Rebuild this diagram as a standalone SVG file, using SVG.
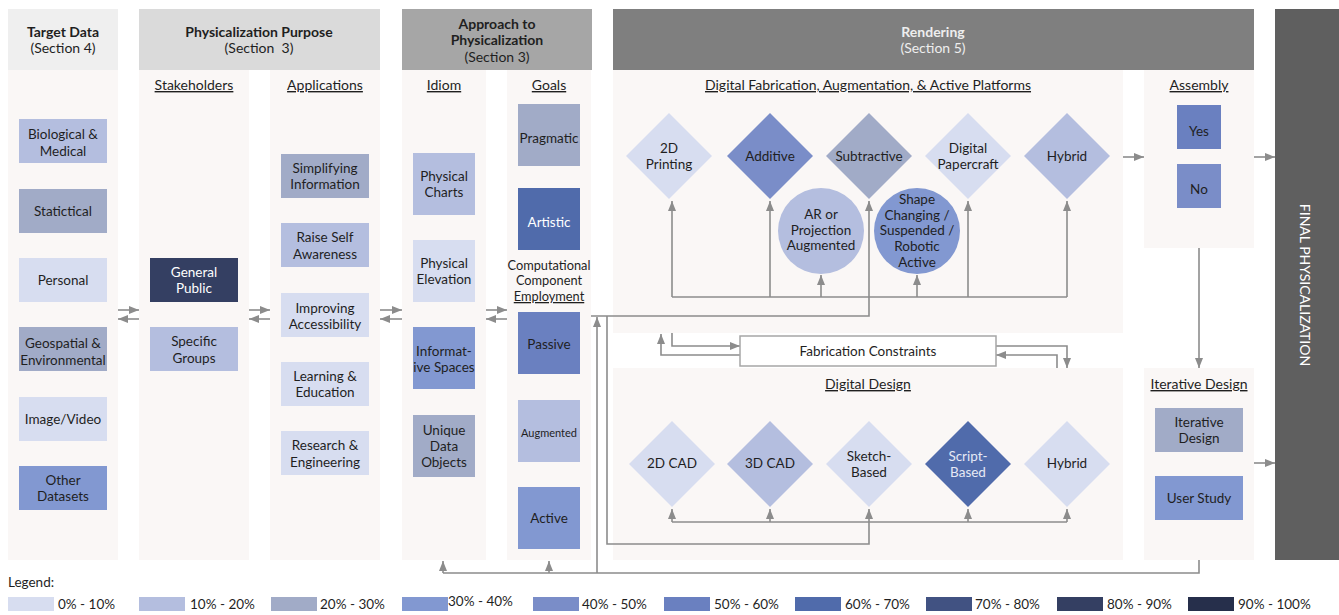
<svg xmlns="http://www.w3.org/2000/svg" width="1339" height="615" viewBox="0 0 1339 615">
<style>
text{font-family:Lato,"Open Sans","Liberation Sans",sans-serif;font-size:13.5px;fill:#1f1f1f;text-anchor:middle}
.b{font-weight:bold;font-size:14px}
.h{font-size:14px}
.u{text-decoration:underline;font-size:14px}
.w{fill:#ffffff}
.col{fill:#faf7f6}
.c{stroke:#8c8c8c;stroke-width:1.6;fill:none}
.lg{text-anchor:start}
.c0{fill:#d7ddf0}.c1{fill:#b4bedf}.c2{fill:#a1abc7}.c3{fill:#8298d1}.c4{fill:#7a8dc8}
.c5{fill:#6a80c0}.c6{fill:#506bab}.c7{fill:#415282}.c8{fill:#343f62}.c9{fill:#262f4b}
</style>
<defs>
<marker id="ah" markerWidth="10" markerHeight="8" refX="10" refY="4" orient="auto" markerUnits="userSpaceOnUse">
<path d="M0,0 L10,4 L0,8 z" fill="#8c8c8c"/>
</marker>
</defs>
<rect width="1339" height="615" fill="#ffffff"/>
<!-- panels -->
<g id="panels">
<rect x="8" y="9" width="110" height="61" fill="#efefef"/>
<rect x="8" y="70" width="110" height="490" class="col"/>
<rect x="139" y="9" width="241" height="61" fill="#dadada"/>
<rect x="139" y="70" width="110" height="490" class="col"/>
<rect x="270" y="70" width="110" height="490" class="col"/>
<rect x="402" y="9" width="190" height="61" fill="#a6a6a6"/>
<rect x="402" y="70" width="84" height="490" class="col"/>
<rect x="507" y="70" width="84" height="490" class="col"/>
<rect x="613" y="9" width="641" height="61" fill="#7f7f7f"/>
<rect x="613" y="70" width="510" height="263" class="col"/>
<rect x="613" y="368" width="510" height="192" class="col"/>
<rect x="1144" y="70" width="110" height="178" class="col"/>
<rect x="1144" y="368" width="110" height="192" class="col"/>
<rect x="1275" y="9" width="64" height="551" fill="#5f5f5f"/>
<text x="63" y="37" class="b">Target Data</text>
<text x="63" y="53" class="h">(Section 4)</text>
<text x="259" y="37" class="b">Physicalization Purpose</text>
<text x="259" y="53" class="h" xml:space="preserve">(Section  3)</text>
<text x="497" y="29" class="b">Approach to</text>
<text x="497" y="45" class="b">Physicalization</text>
<text x="497" y="62" class="h">(Section 3)</text>
<text x="933" y="37" class="b" style="fill:#eeeeee">Rendering</text>
<text x="933" y="53" class="h" style="fill:#eeeeee">(Section 5)</text>
<text transform="translate(1300,285) rotate(90)" class="w" style="font-size:14px">FINAL PHYSICALIZATION</text>
<text x="194" y="90" class="u">Stakeholders</text>
<text x="325" y="90" class="u">Applications</text>
<text x="444" y="90" class="u">Idiom</text>
<text x="549" y="90" class="u">Goals</text>
<text x="868" y="90" class="u">Digital Fabrication, Augmentation, &amp; Active Platforms</text>
<text x="1199" y="90" class="u">Assembly</text>
<text x="868" y="389" class="u">Digital Design</text>
<text x="1199" y="389" class="u">Iterative Design</text>
<text x="549" y="270" style="font-size:12.8px">Computational</text>
<text x="549" y="285" style="font-size:12.8px">Component</text>
<text x="549" y="301" style="font-size:12.8px;text-decoration:underline">Employment</text>
</g>
<!-- connectors -->
<g id="connectors">
<line x1="118" y1="310" x2="139" y2="310" class="c" marker-end="url(#ah)"/>
<line x1="139" y1="319" x2="118" y2="319" class="c" marker-end="url(#ah)"/>
<line x1="249" y1="310" x2="270" y2="310" class="c" marker-end="url(#ah)"/>
<line x1="270" y1="319" x2="249" y2="319" class="c" marker-end="url(#ah)"/>
<line x1="380" y1="310" x2="402" y2="310" class="c" marker-end="url(#ah)"/>
<line x1="402" y1="319" x2="380" y2="319" class="c" marker-end="url(#ah)"/>
<line x1="486" y1="310" x2="507" y2="310" class="c" marker-end="url(#ah)"/>
<line x1="507" y1="319" x2="486" y2="319" class="c" marker-end="url(#ah)"/>
<line x1="672" y1="297" x2="1067" y2="297" class="c"/>
<line x1="672" y1="297" x2="672" y2="201" class="c" marker-end="url(#ah)"/>
<line x1="770" y1="297" x2="770" y2="201" class="c" marker-end="url(#ah)"/>
<line x1="968" y1="297" x2="968" y2="201" class="c" marker-end="url(#ah)"/>
<line x1="1067" y1="297" x2="1067" y2="201" class="c" marker-end="url(#ah)"/>
<line x1="821" y1="297" x2="821" y2="275" class="c" marker-end="url(#ah)"/>
<line x1="917" y1="297" x2="917" y2="275" class="c" marker-end="url(#ah)"/>
<polyline points="591,316 869,316 869,201" class="c" marker-end="url(#ah)"/>
<line x1="1123" y1="157" x2="1144" y2="157" class="c" marker-end="url(#ah)"/>
<line x1="1254" y1="157" x2="1275" y2="157" class="c" marker-end="url(#ah)"/>
<line x1="1254" y1="463" x2="1275" y2="463" class="c" marker-end="url(#ah)"/>
<line x1="1199" y1="248" x2="1199" y2="368" class="c" marker-end="url(#ah)"/>
<polyline points="1199,560 1199,573 443,573" class="c"/>
<line x1="443" y1="573" x2="443" y2="561" class="c" marker-end="url(#ah)"/>
<line x1="549" y1="573" x2="549" y2="561" class="c" marker-end="url(#ah)"/>
<line x1="597" y1="573" x2="597" y2="317" class="c" marker-end="url(#ah)"/>
<polyline points="607,316 607,544 869,544 869,509" class="c" marker-end="url(#ah)"/>
<line x1="672" y1="522" x2="1067" y2="522" class="c"/>
<line x1="672" y1="522" x2="672" y2="509" class="c" marker-end="url(#ah)"/>
<line x1="770" y1="522" x2="770" y2="509" class="c" marker-end="url(#ah)"/>
<line x1="968" y1="522" x2="968" y2="509" class="c" marker-end="url(#ah)"/>
<line x1="1067" y1="522" x2="1067" y2="509" class="c" marker-end="url(#ah)"/>
<polyline points="672,333 672,346 740,346" class="c" marker-end="url(#ah)"/>
<polyline points="740,355 661,355 661,334" class="c" marker-end="url(#ah)"/>
<polyline points="996,346 1067,346 1067,368" class="c" marker-end="url(#ah)"/>
<polyline points="1057,368 1057,355 996,355" class="c" marker-end="url(#ah)"/>
</g>
<!-- target data -->
<g id="n-bio"><rect x="19" y="119" width="88" height="44" class="c1"/><text x="63" y="139">Biological &amp;</text><text x="63" y="156">Medical</text></g>
<g id="n-stat"><rect x="19" y="189" width="88" height="44" class="c2"/><text x="63" y="216">Statictical</text></g>
<g id="n-personal"><rect x="19" y="258" width="88" height="44" class="c0"/><text x="63" y="285">Personal</text></g>
<g id="n-geo"><rect x="19" y="327" width="88" height="44" class="c2"/><text x="63" y="348">Geospatial &amp;</text><text x="63" y="365">Environmental</text></g>
<g id="n-image"><rect x="19" y="397" width="88" height="44" class="c0"/><text x="63" y="424">Image/Video</text></g>
<g id="n-other"><rect x="19" y="466" width="88" height="44" class="c3"/><text x="63" y="485">Other</text><text x="63" y="501">Datasets</text></g>
<!-- stakeholders -->
<g id="n-general"><rect x="150" y="258" width="88" height="44" class="c8"/><text x="194" y="277" class="w">General</text><text x="194" y="293" class="w">Public</text></g>
<g id="n-specific"><rect x="150" y="327" width="88" height="44" class="c1"/><text x="194" y="346">Specific</text><text x="194" y="363">Groups</text></g>
<!-- applications -->
<g id="n-simplify"><rect x="281" y="154" width="88" height="44" class="c2"/><text x="325" y="173">Simplifying</text><text x="325" y="189">Information</text></g>
<g id="n-raise"><rect x="281" y="223" width="88" height="44" class="c1"/><text x="325" y="242">Raise Self</text><text x="325" y="259">Awareness</text></g>
<g id="n-access"><rect x="281" y="293" width="88" height="44" class="c0"/><text x="325" y="313">Improving</text><text x="325" y="329">Accessibility</text></g>
<g id="n-learn"><rect x="281" y="362" width="88" height="44" class="c0"/><text x="325" y="381">Learning &amp;</text><text x="325" y="397">Education</text></g>
<g id="n-research"><rect x="281" y="431" width="88" height="44" class="c0"/><text x="325" y="450">Research &amp;</text><text x="325" y="467">Engineering</text></g>
<!-- idiom -->
<g id="n-charts"><rect x="413" y="153" width="62" height="62" class="c1"/><text x="444" y="181">Physical</text><text x="444" y="197">Charts</text></g>
<g id="n-elev"><rect x="413" y="240" width="62" height="62" class="c0"/><text x="444" y="268">Physical</text><text x="444" y="284">Elevation</text></g>
<g id="n-spaces"><rect x="413" y="327" width="62" height="62" class="c3"/><text x="444" y="356">Informat-</text><text x="444" y="372">ive Spaces</text></g>
<g id="n-unique"><rect x="413" y="415" width="62" height="62" class="c2"/><text x="444" y="435">Unique</text><text x="444" y="451">Data</text><text x="444" y="467">Objects</text></g>
<!-- goals -->
<g id="n-prag"><rect x="518" y="104" width="62" height="62" class="c2"/><text x="549" y="143">Pragmatic</text></g>
<g id="n-art"><rect x="518" y="188" width="62" height="62" class="c6"/><text x="549" y="227" class="w">Artistic</text></g>
<g id="n-passive"><rect x="518" y="312" width="62" height="62" class="c5"/><text x="549" y="349">Passive</text></g>
<g id="n-aug"><rect x="518" y="400" width="62" height="62" class="c1"/><text x="549" y="437" style="font-size:11px">Augmented</text></g>
<g id="n-active"><rect x="518" y="487" width="62" height="62" class="c3"/><text x="549" y="523">Active</text></g>
<!-- fabrication -->
<g id="n-2dprint"><path d="M669,113 L712,156 L669,199 L626,156 Z" class="c0"/><text x="669" y="153">2D</text><text x="669" y="169">Printing</text></g>
<g id="n-additive"><path d="M770,113 L813,156 L770,199 L727,156 Z" class="c4"/><text x="770" y="161">Additive</text></g>
<g id="n-subtractive"><path d="M869,113 L912,156 L869,199 L826,156 Z" class="c2"/><text x="869" y="161">Subtractive</text></g>
<g id="n-paper"><path d="M968,113 L1011,156 L968,199 L925,156 Z" class="c0"/><text x="968" y="153">Digital</text><text x="968" y="169">Papercraft</text></g>
<g id="n-fhybrid"><path d="M1067,113 L1110,156 L1067,199 L1024,156 Z" class="c1"/><text x="1067" y="161">Hybrid</text></g>
<g id="n-ar"><circle cx="821" cy="231" r="43" class="c1"/><text x="821" y="219">AR or</text><text x="821" y="235">Projection</text><text x="821" y="250">Augmented</text></g>
<g id="n-shape"><circle cx="917" cy="231" r="43" class="c3"/><text x="917" y="204">Shape</text><text x="917" y="220">Changing /</text><text x="917" y="235">Suspended /</text><text x="917" y="251">Robotic</text><text x="917" y="267">Active</text></g>
<!-- assembly -->
<g id="n-yes"><rect x="1177" y="105" width="44" height="44" class="c5"/><text x="1199" y="136">Yes</text></g>
<g id="n-no"><rect x="1177" y="164" width="44" height="44" class="c4"/><text x="1199" y="194">No</text></g>
<!-- constraints -->
<g id="n-constraints"><rect x="740" y="336" width="256" height="30" fill="#ffffff" stroke="#a6a6a6" stroke-width="1.5"/><text x="868" y="356">Fabrication Constraints</text></g>
<!-- digital design -->
<g id="n-2dcad"><path d="M672,421 L715,464 L672,507 L629,464 Z" class="c0"/><text x="672" y="468">2D CAD</text></g>
<g id="n-3dcad"><path d="M770,421 L813,464 L770,507 L727,464 Z" class="c1"/><text x="770" y="468">3D CAD</text></g>
<g id="n-sketch"><path d="M869,421 L912,464 L869,507 L826,464 Z" class="c0"/><text x="869" y="461">Sketch-</text><text x="869" y="477">Based</text></g>
<g id="n-script"><path d="M968,421 L1011,464 L968,507 L925,464 Z" class="c6"/><text x="968" y="461" style="fill:#e6e9f5">Script-</text><text x="968" y="477" style="fill:#e6e9f5">Based</text></g>
<g id="n-dhybrid"><path d="M1067,421 L1110,464 L1067,507 L1024,464 Z" class="c0"/><text x="1067" y="468">Hybrid</text></g>
<!-- iterative -->
<g id="n-iter"><rect x="1155" y="408" width="88" height="44" class="c2"/><text x="1199" y="427">Iterative</text><text x="1199" y="443">Design</text></g>
<g id="n-user"><rect x="1155" y="476" width="88" height="44" class="c3"/><text x="1199" y="503">User Study</text></g>
<!-- legend -->
<g id="legend">
<text x="8" y="587" class="lg">Legend:</text>
<rect x="8" y="597" width="46" height="14" class="c0"/><text x="58" y="609" class="lg">0% - 10%</text>
<rect x="139" y="597" width="46" height="14" class="c1"/><text x="190" y="609" class="lg">10% - 20%</text>
<rect x="271" y="597" width="46" height="14" class="c2"/><text x="320" y="609" class="lg">20% - 30%</text>
<rect x="402" y="597" width="46" height="14" class="c3"/><text x="448" y="606" class="lg">30% - 40%</text>
<rect x="533" y="597" width="46" height="14" class="c4"/><text x="582" y="609" class="lg">40% - 50%</text>
<rect x="664" y="597" width="46" height="14" class="c5"/><text x="714" y="609" class="lg">50% - 60%</text>
<rect x="795" y="597" width="46" height="14" class="c6"/><text x="845" y="609" class="lg">60% - 70%</text>
<rect x="926" y="597" width="46" height="14" class="c7"/><text x="975" y="609" class="lg">70% - 80%</text>
<rect x="1057" y="597" width="46" height="14" class="c8"/><text x="1107" y="609" class="lg">80% - 90%</text>
<rect x="1188" y="597" width="46" height="14" class="c9"/><text x="1238" y="609" class="lg">90% - 100%</text>
</g>
</svg>
